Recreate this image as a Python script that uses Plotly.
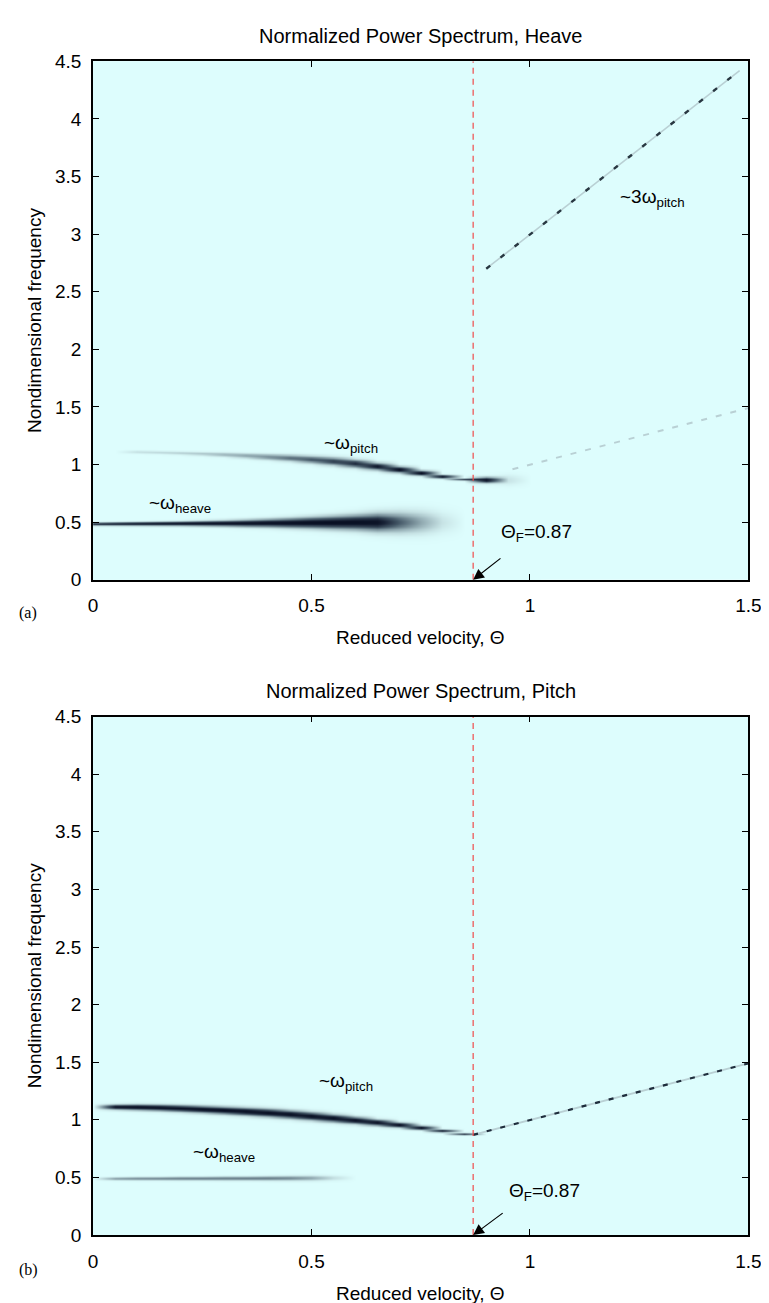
import numpy as np
import plotly.graph_objects as go

# ---------------- data ----------------
THETA_KNOTS = [0.00, 0.05, 0.10, 0.15, 0.20, 0.25, 0.30, 0.35, 0.40, 0.45, 0.50,
               0.55, 0.60, 0.65, 0.70, 0.75, 0.80, 0.85, 0.90, 0.95, 1.00]

# Panel (a) heave spectrum: pitch-mode ridge
A_PITCH_FREQ = [1.115, 1.115, 1.110, 1.106, 1.101, 1.095, 1.088, 1.078, 1.068, 1.058, 1.045,
                1.030, 1.010, 0.985, 0.958, 0.928, 0.898, 0.872, 0.868, 0.868, 0.868]
A_PITCH_AMP = [0.00, 0.00, 0.12, 0.15, 0.18, 0.22, 0.27, 0.33, 0.42, 0.52, 0.62,
               0.72, 0.82, 0.92, 1.00, 1.00, 0.95, 0.85, 1.00, 0.10, 0.00]
A_PITCH_WID = [0.010, 0.010, 0.008, 0.008, 0.009, 0.010, 0.012, 0.014, 0.016, 0.018, 0.020,
               0.022, 0.022, 0.020, 0.017, 0.014, 0.010, 0.006, 0.016, 0.030, 0.030]
# Panel (a) heave-mode ridge
A_HEAVE_FREQ = [0.485, 0.486, 0.487, 0.488, 0.489, 0.490, 0.491, 0.492, 0.494, 0.495, 0.497,
                0.498, 0.500, 0.500, 0.500, 0.500, 0.500, 0.500, 0.500, 0.500, 0.500]
A_HEAVE_AMP = [0.85, 0.88, 0.90, 0.92, 0.93, 0.94, 0.95, 0.96, 0.97, 0.98, 1.00,
               1.00, 1.00, 0.97, 0.60, 0.32, 0.10, 0.00, 0.00, 0.00, 0.00]
A_HEAVE_WID = [0.008, 0.009, 0.010, 0.011, 0.012, 0.014, 0.016, 0.019, 0.022, 0.026, 0.030,
               0.035, 0.040, 0.048, 0.055, 0.060, 0.060, 0.060, 0.060, 0.060, 0.060]
# Panel (a) post-flutter branches
A_1W_THETA = [0.96, 1.50]
A_1W_FREQ = [0.96, 1.49]
A_3W_THETA = [0.90, 1.48]
A_3W_FREQ = [2.70, 4.42]

# Panel (b) pitch spectrum
B_PITCH_FREQ = [1.112, 1.112, 1.110, 1.106, 1.100, 1.092, 1.083, 1.073, 1.062, 1.048, 1.033,
                1.015, 0.997, 0.977, 0.957, 0.933, 0.906, 0.878, 0.870, 0.870, 0.870]
B_PITCH_AMP = [0.00, 0.95, 1.00, 1.00, 1.00, 1.00, 1.00, 1.00, 1.00, 1.00, 1.00,
               1.00, 1.00, 1.00, 1.00, 1.00, 1.00, 0.90, 0.00, 0.00, 0.00]
B_PITCH_WID = [0.014, 0.014, 0.016, 0.017, 0.018, 0.019, 0.020, 0.021, 0.022, 0.022, 0.022,
               0.021, 0.019, 0.017, 0.014, 0.011, 0.008, 0.006, 0.006, 0.006, 0.006]
B_HEAVE_FREQ = [0.490, 0.490, 0.491, 0.491, 0.492, 0.492, 0.493, 0.493, 0.494, 0.495, 0.496,
                0.497, 0.498, 0.498, 0.498, 0.498, 0.498, 0.498, 0.498, 0.498, 0.498]
B_HEAVE_AMP = [0.00, 0.35, 0.40, 0.42, 0.44, 0.45, 0.45, 0.46, 0.46, 0.42, 0.32,
               0.12, 0.00, 0.00, 0.00, 0.00, 0.00, 0.00, 0.00, 0.00, 0.00]
B_HEAVE_WID = [0.008, 0.008, 0.009, 0.009, 0.010, 0.010, 0.011, 0.011, 0.012, 0.013, 0.014,
               0.014, 0.014, 0.014, 0.014, 0.014, 0.014, 0.014, 0.014, 0.014, 0.014]
B_1W_THETA = [0.87, 1.50]
B_1W_FREQ = [0.87, 1.49]

THETA_F = 0.87
X_TICKS = [0, 0.5, 1, 1.5]
Y_TICKS = [0, 0.5, 1, 1.5, 2, 2.5, 3, 3.5, 4, 4.5]

# ---------------- figure ----------------
W, H = 769, 1303
FONT = "Liberation Sans, Arial, Helvetica, sans-serif"
BG = "rgb(221,253,253)"
CSCALE = [[0.0, BG], [0.1, "rgb(200,228,230)"], [0.3, "rgb(150,175,182)"],
          [0.6, "rgb(70,90,105)"], [0.85, "rgb(25,35,55)"], [1.0, "rgb(8,15,35)"]]

F_GRID = np.arange(0, 4.5001, 0.005)


def build_z(ridges):
    z = np.zeros((len(F_GRID), len(THETA_KNOTS)))
    for freq, amp, wid in ridges:
        for i in range(len(THETA_KNOTS)):
            if amp[i] > 0:
                z[:, i] += amp[i] * np.exp(-0.5 * ((F_GRID - freq[i]) / wid[i]) ** 2)
    return np.clip(z, 0, 1)


def px(xp):
    return xp / W


def py(yp):
    return 1 - yp / H


fig = go.Figure()

za = build_z([(A_PITCH_FREQ, A_PITCH_AMP, A_PITCH_WID), (A_HEAVE_FREQ, A_HEAVE_AMP, A_HEAVE_WID)])
zb = build_z([(B_PITCH_FREQ, B_PITCH_AMP, B_PITCH_WID), (B_HEAVE_FREQ, B_HEAVE_AMP, B_HEAVE_WID)])

for z, xa, ya in [(za, "x", "y"), (zb, "x2", "y2")]:
    fig.add_trace(go.Heatmap(x=THETA_KNOTS, y=F_GRID, z=z, zmin=0, zmax=1, colorscale=CSCALE,
                             showscale=False, zsmooth="best", hoverinfo="skip",
                             xaxis=xa, yaxis=ya))

# post-flutter branches
GRAY_LIGHT = "rgb(185,208,212)"
fig.add_trace(go.Scatter(x=A_1W_THETA, y=A_1W_FREQ, mode="lines", xaxis="x", yaxis="y",
                         line=dict(color=GRAY_LIGHT, width=2, dash="6px,9px"), hoverinfo="skip"))
fig.add_trace(go.Scatter(x=A_3W_THETA, y=A_3W_FREQ, mode="lines", xaxis="x", yaxis="y",
                         line=dict(color=GRAY_LIGHT, width=1.6), hoverinfo="skip"))
fig.add_trace(go.Scatter(x=A_3W_THETA, y=A_3W_FREQ, mode="lines", xaxis="x", yaxis="y",
                         line=dict(color="rgb(40,55,65)", width=2.4, dash="5px,13px"), hoverinfo="skip"))
fig.add_trace(go.Scatter(x=B_1W_THETA, y=B_1W_FREQ, mode="lines", xaxis="x2", yaxis="y2",
                         line=dict(color=GRAY_LIGHT, width=1.8), hoverinfo="skip"))
fig.add_trace(go.Scatter(x=B_1W_THETA, y=B_1W_FREQ, mode="lines", xaxis="x2", yaxis="y2",
                         line=dict(color="rgb(30,45,60)", width=2.2, dash="5px,9px"), hoverinfo="skip"))

# flutter boundary lines
for xa, ya in [("x", "y"), ("x2", "y2")]:
    fig.add_trace(go.Scatter(x=[THETA_F, THETA_F], y=[Y_TICKS[0], Y_TICKS[-1]], mode="lines",
                             xaxis=xa, yaxis=ya, hoverinfo="skip",
                             line=dict(color="rgb(240,75,75)", width=1.2, dash="6px,5px")))

axis_common = dict(showgrid=False, zeroline=False, showline=True, linecolor="black", linewidth=1.8,
                   mirror="ticks", ticks="inside", ticklen=6, tickwidth=1.2, tickcolor="black",
                   tickfont=dict(family=FONT, size=19, color="black"))
xdom = [px(82), px(753)]
fig.update_layout(
    width=W, height=H, autosize=False, showlegend=False,
    margin=dict(l=0, r=0, t=0, b=0),
    paper_bgcolor="white", plot_bgcolor=BG,
    font=dict(family=FONT, color="black"),
    xaxis=dict(domain=xdom, range=[0, 1.5], tickvals=X_TICKS, anchor="y", ticklabelstandoff=8, **axis_common),
    yaxis=dict(domain=[py(571), py(44)], range=[0, 4.5], tickvals=Y_TICKS, anchor="x", ticklabelstandoff=6, **axis_common),
    xaxis2=dict(domain=xdom, range=[0, 1.5], tickvals=X_TICKS, anchor="y2", ticklabelstandoff=8, **axis_common),
    yaxis2=dict(domain=[py(1237), py(710)], range=[0, 4.5], tickvals=Y_TICKS, anchor="x2", ticklabelstandoff=6, **axis_common),
)

ann = []
TF = dict(family=FONT, size=19, color="black")
for dy, title, tag in [(0, "Normalized Power Spectrum, Heave", "(a)"), (666, "Normalized Power Spectrum, Pitch", "(b)")]:
    ann.append(dict(x=px(417.5), y=py(18 + dy), xref="paper", yref="paper", text=title,
                    showarrow=False, font=dict(family=FONT, size=20, color="black"),
                    xanchor="center", yanchor="middle"))
    ann.append(dict(x=px(417.5), y=py(630 + dy), xref="paper", yref="paper", text="Reduced velocity, Θ",
                    showarrow=False, font=TF, xanchor="center", yanchor="middle"))
    ann.append(dict(x=px(22), y=py(307.5 + dy), xref="paper", yref="paper", text="Nondimensional frequency",
                    showarrow=False, font=TF, textangle=-90, xanchor="center", yanchor="middle"))
    ann.append(dict(x=px(4), y=py(605 + dy + (2 if tag == "(b)" else 0)), xref="paper", yref="paper", text=tag,
                    showarrow=False,
                    font=dict(family="Liberation Serif, Times New Roman, serif", size=16, color="black"),
                    xanchor="left", yanchor="middle"))

LF = dict(family=FONT, size=19, color="black")
# panel (a) labels
ann += [
    dict(x=0.59, y=1.18, xref="x", yref="y", text="~ω<sub>pitch</sub>", showarrow=False, font=LF),
    dict(x=0.20, y=0.66, xref="x", yref="y", text="~ω<sub>heave</sub>", showarrow=False, font=LF),
    dict(x=1.28, y=3.31, xref="x", yref="y", text="~3ω<sub>pitch</sub>", showarrow=False, font=LF),
    dict(x=1.015, y=0.41, xref="x", yref="y", text="Θ<sub>F</sub>=0.87", showarrow=False, font=LF),
    dict(x=THETA_F, y=0, xref="x", yref="y", ax=0.936, ay=0.196, axref="x", ayref="y", text="",
         showarrow=True, arrowhead=2, arrowsize=1.8, arrowwidth=1.2, arrowcolor="black"),
    # panel (b) labels
    dict(x=0.58, y=1.33, xref="x2", yref="y2", text="~ω<sub>pitch</sub>", showarrow=False, font=LF),
    dict(x=0.30, y=0.71, xref="x2", yref="y2", text="~ω<sub>heave</sub>", showarrow=False, font=LF),
    dict(x=1.034, y=0.37, xref="x2", yref="y2", text="Θ<sub>F</sub>=0.87", showarrow=False, font=LF),
    dict(x=THETA_F, y=0, xref="x2", yref="y2", ax=0.941, ay=0.20, axref="x2", ayref="y2", text="",
         showarrow=True, arrowhead=2, arrowsize=1.8, arrowwidth=1.2, arrowcolor="black"),
]
fig.update_layout(annotations=ann)

fig.write_html("out.html")
